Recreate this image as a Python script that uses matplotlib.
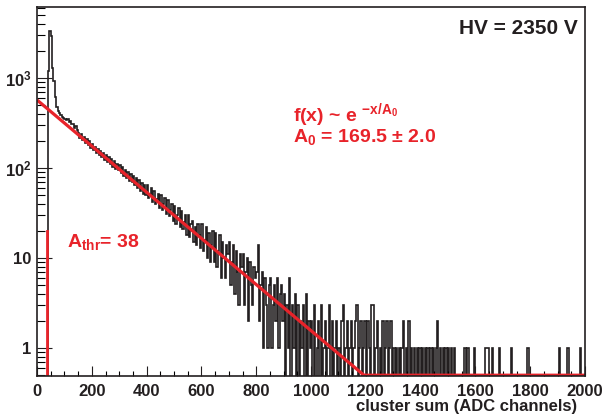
import matplotlib
matplotlib.use('Agg')
import matplotlib.pyplot as plt
import numpy as np
from matplotlib.ticker import LogLocator, MultipleLocator, NullFormatter

plt.rcParams['font.family'] = ['Liberation Sans', 'DejaVu Sans']
plt.rcParams['font.weight'] = 'bold'
plt.rcParams['mathtext.fontset'] = 'custom'
plt.rcParams['mathtext.rm'] = 'Liberation Sans:bold'
plt.rcParams['mathtext.it'] = 'Liberation Sans:bold'
plt.rcParams['mathtext.bf'] = 'Liberation Sans:bold'
plt.rcParams['mathtext.sf'] = 'Liberation Sans:bold'

# histogram: counts per bin, bins of 5 ADC channels from 0 to 2000
bin_width = 5
counts = [
    0, 0, 0, 0, 0, 0, 0, 0, 1200, 3300,
    2900, 1300, 920, 620, 480, 430, 405, 385, 372, 362,
    355, 340, 348, 328, 332, 305, 312, 280, 290, 262,
    248, 218, 236, 204, 222, 190, 210, 180, 198, 168,
    184, 158, 172, 148, 162, 138, 154, 132, 146, 124,
    140, 118, 134, 112, 126, 104, 120, 98, 112, 94,
    108, 88, 102, 82, 96, 78, 90, 72, 86, 70,
    82, 64, 78, 60, 74, 56, 68, 52, 64, 50,
    64, 46, 52, 60, 42, 56, 40, 45, 52, 36,
    50, 34, 40, 46, 31, 44, 29, 34, 40, 26,
    38, 24, 30, 36, 22, 33, 21, 25, 30, 18,
    30, 17, 24, 26, 15, 22, 14, 24, 18, 13,
    24, 12, 16, 22, 10, 19, 9, 14, 20, 9,
    19, 8, 12, 18, 6, 15, 10, 6, 14, 11,
    15, 5, 9, 14, 4, 12, 7, 3, 11, 8,
    11, 3, 7, 10, 2, 9, 5, 3, 8, 6,
    7, 14, 2, 5, 7, 1, 6, 3, 1, 5,
    6, 1, 3, 5, 2, 6, 1, 4, 5, 2,
    4, 0, 3, 1, 6, 0, 3, 1, 4, 0,
    3, 0, 2, 1, 3, 0, 4, 0, 2, 1,
    2, 0, 3, 0, 1, 2, 0, 3, 0, 1,
    2, 0, 1, 3, 0, 2, 0, 1, 2, 0,
    1, 0, 2, 3, 0, 1, 2, 0, 1, 2,
    0, 1, 2, 3, 0, 1, 2, 0, 1, 2,
    0, 2, 1, 0, 3, 3, 0, 1, 2, 0,
    1, 0, 2, 0, 1, 2, 0, 1, 2, 0,
    1, 0, 1, 0, 1, 0, 1, 2, 0, 1,
    0, 2, 0, 1, 0, 1, 0, 1, 0, 1,
    0, 1, 0, 1, 0, 1, 0, 1, 0, 1,
    0, 1, 2, 0, 1, 0, 1, 0, 1, 0,
    1, 0, 1, 0, 1, 0, 0, 0, 0, 0,
    0, 0, 1, 0, 1, 0, 0, 0, 0, 1,
    0, 0, 0, 0, 0, 0, 0, 1, 1, 1,
    0, 0, 1, 0, 0, 0, 0, 1, 0, 0,
    0, 0, 0, 0, 0, 0, 1, 0, 0, 0,
    0, 0, 0, 0, 0, 0, 0, 0, 1, 0,
    0, 0, 0, 0, 0, 0, 0, 0, 0, 0,
    0, 0, 0, 0, 0, 0, 0, 0, 0, 0,
    0, 1, 0, 0, 0, 0, 0, 1, 0, 0,
    0, 0, 0, 0, 0, 0, 1, 0, 0, 0,
]

# exponential fit f(x) = N * exp(-x / A0)
fit_norm = 570.0
fit_A0 = 169.5
fit_A0_err = 2.0
threshold = 38
threshold_height = 20
hv = 2350

x_range = (0, 2000)
y_range = (0.49, 6150)

red = '#e8232a'
dark = '#231f20'

fig = plt.figure(figsize=(6.03, 4.16), dpi=100)
ax = fig.add_axes([0.0614, 0.0962, 0.9088, 0.887])

counts = np.array(counts, dtype=float)
edges = np.arange(len(counts) + 1) * bin_width
plot_vals = np.where(counts > 0, counts, 1e-3)
ax.stairs(plot_vals, edges, color=dark, lw=1.2, baseline=None)

xf = np.linspace(x_range[0], x_range[1], 800)
yf = fit_norm * np.exp(-xf / fit_A0)
ax.plot(xf, np.maximum(yf, y_range[0] * 1.02), color=red, lw=2.3, solid_capstyle='butt')

ax.plot([threshold, threshold], [y_range[0], threshold_height], color=red, lw=2.0)

ax.set_yscale('log')
ax.set_xlim(*x_range)
ax.set_ylim(*y_range)

ax.xaxis.set_major_locator(MultipleLocator(200))
ax.xaxis.set_minor_locator(MultipleLocator(50))
ax.set_yticks([1, 10, 100, 1000])
ax.set_yticklabels(['1', '10', r'$10^{2}$', r'$10^{3}$'])
ax.yaxis.set_minor_locator(LogLocator(base=10, subs=np.arange(2, 10)))
ax.yaxis.set_minor_formatter(NullFormatter())

ax.tick_params(axis='x', which='major', direction='in', length=7, width=0.8,
               labelsize=12, pad=6, colors=dark)
ax.tick_params(axis='x', which='minor', direction='in', length=3.5, width=0.8)
ax.tick_params(axis='y', which='major', direction='in', length=11, width=0.8,
               labelsize=12, pad=4, colors=dark)
ax.tick_params(axis='y', which='minor', direction='in', length=6, width=0.8)
for s in ax.spines.values():
    s.set_linewidth(1.2)
    s.set_color(dark)

fig.text(577 / 603, 1 - 406 / 416, 'cluster sum (ADC channels)', ha='right',
         va='center', fontsize=12, color=dark)

fig.text(578 / 603, 1 - 29 / 416, 'HV = %d V' % hv, ha='right', va='center',
         fontsize=15, color=dark)

fig.text(293 / 603, 1 - 121 / 416, r'f(x) ~ e $^{-x/A_{0}}$', ha='left',
         va='baseline', fontsize=14, color=red)
fig.text(293 / 603, 1 - 142 / 416,
         r'A$_{0}$ = %.1f ± %.1f' % (fit_A0, fit_A0_err), ha='left',
         va='baseline', fontsize=14, color=red)
fig.text(67 / 603, 1 - 247 / 416, r'A$_{thr}$= %d' % threshold, ha='left',
         va='baseline', fontsize=14, color=red)

fig.savefig('out.png', dpi=100)
